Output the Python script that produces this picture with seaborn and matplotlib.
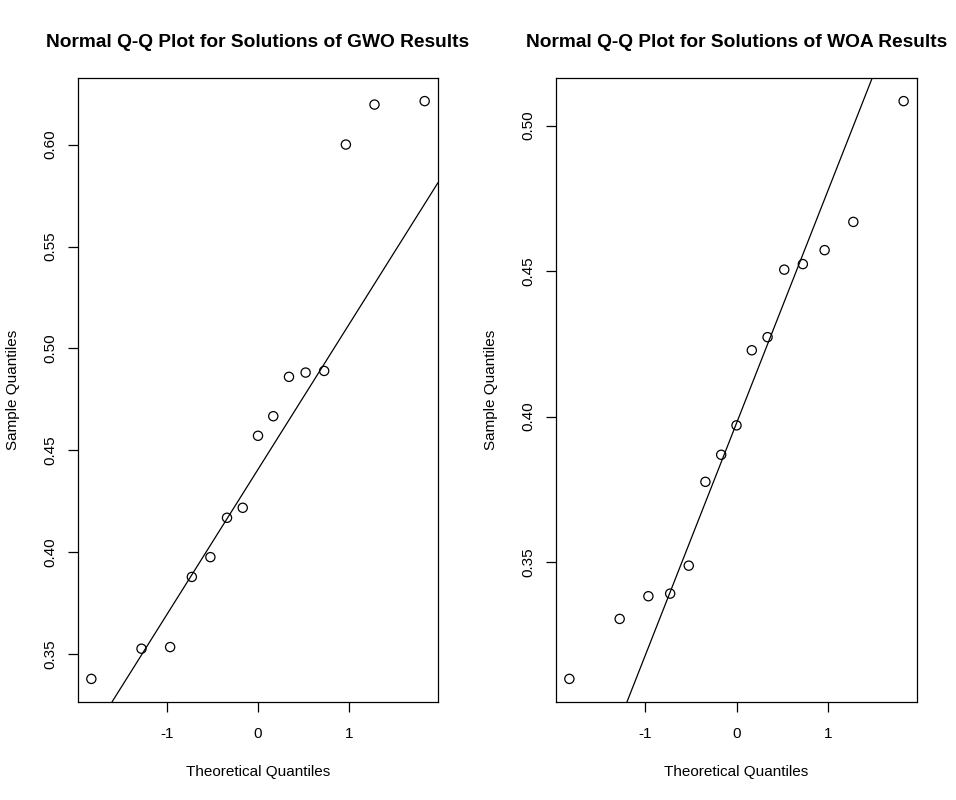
import numpy as np
import pandas as pd
import matplotlib
matplotlib.use("Agg")
import matplotlib.pyplot as plt
import seaborn as sns

# Theoretical normal quantiles (n = 15), read from the x positions of the points
theoretical = [-1.834, -1.282, -0.967, -0.728, -0.524, -0.341, -0.168, 0.0,
               0.168, 0.341, 0.524, 0.728, 0.967, 1.282, 1.834]

# Sorted sample values
gwo_sample = [0.3380, 0.3528, 0.3536, 0.3880, 0.3977, 0.4170, 0.4219, 0.4572,
              0.4668, 0.4861, 0.4882, 0.4890, 0.6000, 0.6196, 0.6213]
woa_sample = [0.3099, 0.3305, 0.3383, 0.3392, 0.3488, 0.3776, 0.3869, 0.3970,
              0.4228, 0.4273, 0.4505, 0.4524, 0.4572, 0.4669, 0.5084]

titles = ["Normal Q-Q Plot for Solutions of GWO Results",
          "Normal Q-Q Plot for Solutions of WOA Results"]
xticks = [-1, 0, 1]
gwo_yticks = [0.35, 0.40, 0.45, 0.50, 0.55, 0.60]
woa_yticks = [0.35, 0.40, 0.45, 0.50]
QNORM_25, QNORM_75 = -0.6745, 0.6745

sns.set_theme(style="white")
plt.rcParams['font.family'] = ['Liberation Sans', 'DejaVu Sans']
plt.rcParams['axes.edgecolor'] = 'black'
plt.rcParams['axes.linewidth'] = 0.9
plt.rcParams['text.color'] = 'black'
plt.rcParams['axes.labelcolor'] = 'black'
plt.rcParams['xtick.color'] = 'black'
plt.rcParams['ytick.color'] = 'black'

fig = plt.figure(figsize=(9.56, 8.0), dpi=100)
ax1 = fig.add_axes([78 / 956, 98 / 800, 360 / 956, 624 / 800])
ax2 = fig.add_axes([556 / 956, 98 / 800, 361 / 956, 624 / 800])


def r_lim(vals):
    lo, hi = min(vals), max(vals)
    pad = (hi - lo) * 0.04
    return lo - pad, hi + pad


def draw(ax, sample, title, yticks):
    df = pd.DataFrame({"Theoretical Quantiles": theoretical,
                       "Sample Quantiles": sample})
    sns.scatterplot(data=df, x="Theoretical Quantiles", y="Sample Quantiles",
                    ax=ax, marker="o", s=44, facecolor="none",
                    edgecolor="black", linewidth=0.9)
    q1, q3 = np.percentile(sample, [25, 75])
    slope = (q3 - q1) / (QNORM_75 - QNORM_25)
    intercept = q1 - slope * QNORM_25
    ax.axline((0, intercept), slope=slope, color="black", linewidth=0.9)
    ax.set_xlim(*r_lim(theoretical))
    ax.set_ylim(*r_lim(sample))
    ax.set_xticks(xticks)
    ax.set_xticklabels([str(t) for t in xticks])
    ax.set_yticks(yticks)
    ax.set_yticklabels([f"{t:.2f}" for t in yticks], rotation=90, va="center")
    ax.tick_params(axis="x", which="both", direction="out", length=7,
                   width=0.9, colors="black", labelsize=11, pad=11,
                   bottom=True)
    ax.tick_params(axis="y", which="both", direction="out", length=7,
                   width=0.9, colors="black", labelsize=11, pad=8,
                   left=True)
    ax.set_xlabel("Theoretical Quantiles", fontsize=11, labelpad=17,
                  color="black")
    ax.set_ylabel("Sample Quantiles", fontsize=11, labelpad=17,
                  color="black")
    ax.set_title(title, fontsize=13.8, fontweight="bold", pad=22,
                 color="black")
    for sp in ax.spines.values():
        sp.set_visible(True)
        sp.set_color("black")


draw(ax1, gwo_sample, titles[0], gwo_yticks)
draw(ax2, woa_sample, titles[1], woa_yticks)

fig.savefig("out.png", dpi=100, facecolor="white")
